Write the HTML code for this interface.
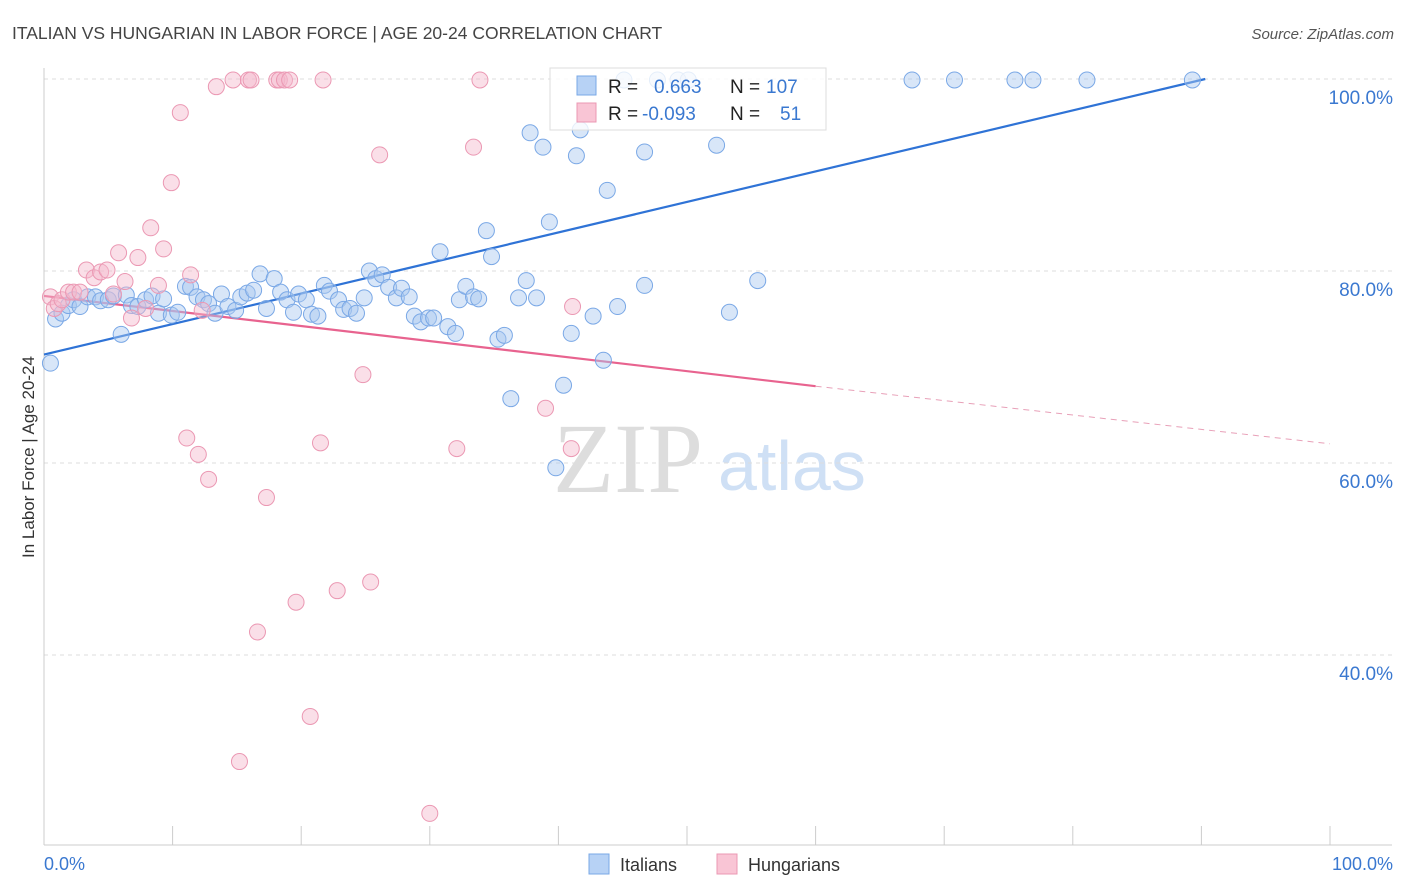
<!DOCTYPE html>
<html><head><meta charset="utf-8"><style>
body{margin:0;background:#fff;font-family:"Liberation Sans",sans-serif}
svg{display:block}
</style></head><body>
<svg id="chart" width="1406" height="892" viewBox="0 0 1406 892">
<text x="12" y="39" font-size="17.5" fill="#444">ITALIAN VS HUNGARIAN IN LABOR FORCE | AGE 20-24 CORRELATION CHART</text>
<text x="1394" y="39" font-size="15" fill="#555" font-style="italic" text-anchor="end">Source: ZipAtlas.com</text>
<g>
<text x="553" y="492" font-size="100" font-family="Liberation Serif,serif" fill="#ddd">ZIP</text>
<text x="718" y="490" font-size="70" fill="#cfe0f5">atlas</text>
</g>
<g id="grid"></g>
<g id="axes"></g>
<text transform="translate(34,457) rotate(-90)" font-size="17" fill="#333" text-anchor="middle">In Labor Force | Age 20-24</text>
<g id="trends"></g>
<g id="points"></g>
<g>
<rect x="550" y="68" width="276" height="62" fill="#fff" fill-opacity="0.8" stroke="#ddd"/>
<rect x="577" y="76" width="19" height="19" fill="#b7d2f5" stroke="#7aa8e6"/>
<rect x="577" y="103" width="19" height="19" fill="#f9c5d5" stroke="#eb98b3"/>
<text x="608" y="93" font-size="19" fill="#222">R =</text>
<text x="654" y="93" font-size="19" fill="#3a78d0">0.663</text>
<text x="730" y="93" font-size="19" fill="#222">N =</text>
<text x="766" y="93" font-size="19" fill="#3a78d0">107</text>
<text x="608" y="120" font-size="19" fill="#222">R =</text>
<text x="642" y="120" font-size="19" fill="#3a78d0">-0.093</text>
<text x="730" y="120" font-size="19" fill="#222">N =</text>
<text x="780" y="120" font-size="19" fill="#3a78d0">51</text>
</g>
<g>
<rect x="589" y="854" width="20" height="20" fill="#b7d2f5" stroke="#7aa8e6"/>
<text x="620" y="871" font-size="18" fill="#333">Italians</text>
<rect x="717" y="854" width="20" height="20" fill="#f9c5d5" stroke="#eb98b3"/>
<text x="748" y="871" font-size="18" fill="#333">Hungarians</text>
</g>
</svg>
<script>
const italiansX=[0.5,0.9,1.4,1.9,2.3,2.8,3.4,4.0,4.4,5.0,5.4,6.0,6.4,6.8,7.3,7.9,8.4,8.9,9.3,9.9,10.4,11.0,11.4,11.9,12.4,12.8,13.3,13.8,14.3,14.9,15.3,15.8,16.3,16.8,17.3,17.9,18.4,18.9,19.4,19.8,20.4,20.8,21.3,21.8,22.2,22.9,23.3,23.8,24.3,24.9,25.3,25.8,26.3,26.8,27.4,27.8,28.4,28.8,29.3,29.9,30.3,30.8,31.4,32.0,32.3,32.8,33.4,33.8,34.4,34.8,35.3,35.8,36.3,36.9,37.5,37.8,38.3,38.8,39.3,39.8,40.4,41.0,41.4,41.7,42.7,43.5,43.8,44.6,45.1,46.7,46.7,47.7,49.3,50.1,52.3,53.3,55.5,67.5,70.8,75.5,76.9,81.1,89.3];
const italiansY=[70.4,75.0,75.6,76.4,77.0,76.3,77.3,77.3,76.9,77.0,77.4,73.4,77.5,76.4,76.3,77.0,77.4,75.6,77.1,75.4,75.7,78.4,78.3,77.3,77.0,76.6,75.6,77.6,76.3,75.9,77.3,77.7,78.0,79.7,76.1,79.2,77.8,77.0,75.7,77.6,77.0,75.5,75.3,78.5,77.9,77.0,76.0,76.1,75.6,77.2,80.0,79.2,79.6,78.3,77.2,78.2,77.3,75.3,74.7,75.1,75.1,82.0,74.2,73.5,77.0,78.4,77.3,77.1,84.2,81.5,72.9,73.3,66.7,77.2,79.0,94.4,77.2,92.9,85.1,59.5,68.1,73.5,92.0,94.7,75.3,70.7,88.4,76.3,99.9,92.4,78.5,99.9,99.9,99.9,93.1,75.7,79.0,99.9,99.9,99.9,99.9,99.9,99.9];
const hungariansX=[0.5,0.8,1.1,1.4,1.9,2.3,2.8,3.3,3.9,4.4,4.9,5.4,5.8,6.3,6.8,7.3,7.9,8.3,8.9,9.3,9.9,10.6,11.4,11.1,12.0,12.3,12.8,13.4,14.7,15.2,15.9,16.1,16.6,17.3,18.1,18.3,18.7,19.1,19.6,20.7,21.5,21.7,22.8,24.8,25.4,26.1,30.0,32.1,33.4,33.9,39.0,41.0,41.1];
const hungariansY=[77.3,76.1,76.6,77.0,77.8,77.8,77.8,80.1,79.3,79.9,80.1,77.6,81.9,78.9,75.1,81.4,76.1,84.5,78.5,82.3,89.2,96.5,79.6,62.6,60.9,75.9,58.3,99.2,99.9,28.9,99.9,99.9,42.4,56.4,99.9,99.9,99.9,99.9,45.5,33.6,62.1,99.9,46.7,69.2,47.6,92.1,23.5,61.5,92.9,99.9,65.7,61.5,76.3];
const blueTrend=[[0,71.3],[90.3,100]];
const pinkTrendSolid=[[0,77.4],[60,68.0]];
const pinkTrendDashed=[[60,68.0],[100,62.0]];
const yTicks=[100,80,60,40];
const yTickLabels=["100.0%","80.0%","60.0%","40.0%"];
const xTickCount=10;

const NS="http://www.w3.org/2000/svg";
const X=v=>44+v*12.86, Y=v=>79+(100-v)*9.6;
function mk(parent,tag,attrs){const e=document.createElementNS(NS,tag);for(const k in attrs)e.setAttribute(k,attrs[k]);document.getElementById(parent).appendChild(e);return e;}
yTicks.forEach((t,i)=>{
  const l=mk('grid','line',{x1:44,x2:1392,y1:Y(t),y2:Y(t),stroke:'#ddd','stroke-dasharray':'4,4'});
  
  
  const tx=mk('grid','text',{x:1393,y:Y(t)+25,'font-size':19,fill:'#3a78d0','text-anchor':'end'});
  tx.textContent=yTickLabels[i];
  
  
});
mk('axes','line',{x1:44,x2:44,y1:68,y2:845,stroke:'#ccc'});
mk('axes','line',{x1:44,x2:1392,y1:845,y2:845,stroke:'#ccc'});
for(let i=0;i<=xTickCount;i++){const t=mk('axes','line',{x1:X(i*10),x2:X(i*10),y1:826,y2:845,stroke:'#ccc'});
  
  }
const xl=mk('axes','text',{x:44,y:870,'font-size':18,fill:'#3a78d0'});xl.textContent='0.0%';

const xr=mk('axes','text',{x:1393,y:870,'font-size':18,fill:'#3a78d0','text-anchor':'end'});xr.textContent='100.0%';

function trend(d,c,dash){const l=mk('trends','line',{x1:X(d[0][0]),y1:Y(d[0][1]),x2:X(d[1][0]),y2:Y(d[1][1]),stroke:c,'stroke-width':dash?1:2.2});if(dash)l.setAttribute('stroke-dasharray','6,5');return l;}
let tl=trend(blueTrend,'#2f73d6');

tl=trend(pinkTrendSolid,'#e8638f');

tl=trend(pinkTrendDashed,'#e8a0b8',true);

italiansX.forEach((x,i)=>{const c=mk('points','circle',{cx:X(x),cy:Y(italiansY[i]),r:8,fill:'#a9c8f0','fill-opacity':0.45,stroke:'#7aa8e6','stroke-width':1});
  
  });
hungariansX.forEach((x,i)=>{const c=mk('points','circle',{cx:X(x),cy:Y(hungariansY[i]),r:8,fill:'#f5b8cc','fill-opacity':0.45,stroke:'#eb98b3','stroke-width':1});
  
  });
</script>
</body></html>
